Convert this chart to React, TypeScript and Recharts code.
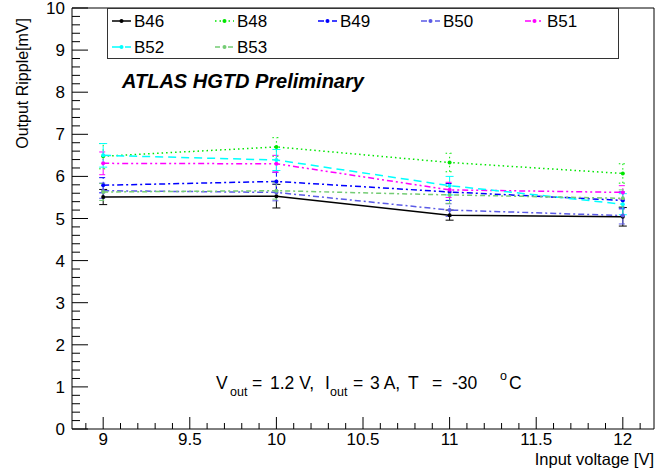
import React from 'react';
import { LineChart, Line, XAxis, YAxis, ErrorBar, ReferenceArea } from 'recharts';

// input voltage [V]
const voltages = [9, 10, 11, 12];

// output ripple [mV] per board
const b46 = [5.51, 5.53, 5.08, 5.04];
const b48 = [6.48, 6.70, 6.33, 6.07];
const b49 = [5.79, 5.88, 5.63, 5.43];
const b50 = [5.66, 5.62, 5.20, 5.07];
const b51 = [6.31, 6.30, 5.68, 5.62];
const b52 = [6.50, 6.39, 5.78, 5.34];
const b53 = [5.63, 5.66, 5.56, 5.48];

// errors [mV]
const e46 = [0.18, 0.28, 0.12, 0.22];
const e48 = [0.30, 0.22, 0.22, 0.23];
const e49 = [0.18, 0.22, 0.20, 0.20];
const e50 = [0.18, 0.20, 0.15, 0.20];
const e51 = [0.27, 0.20, 0.18, 0.16];
const e52 = [0.28, 0.25, 0.22, 0.25];
const e53 = [0.20, 0.20, 0.20, 0.20];

// axis ticks
const xMajorTicks = [9, 9.5, 10, 10.5, 11, 11.5, 12];
const yMajorTicks = [0, 1, 2, 3, 4, 5, 6, 7, 8, 9, 10];
const xTicks = Array.from({ length: 33 }, (_, i) => (89 + i) / 10);
const yTicks = Array.from({ length: 51 }, (_, i) => i / 5);

const FONT = '"Liberation Sans", Arial, Helvetica, sans-serif';

interface Series {
  key: string;
  color: string;
  dash: string;
  values: number[];
  errors: number[];
}

const series: Series[] = [
  { key: 'B46', color: '#000000', dash: '', values: b46, errors: e46 },
  { key: 'B48', color: '#00e600', dash: '1.5 3', values: b48, errors: e48 },
  { key: 'B49', color: '#0000ff', dash: '6 3 2 3', values: b49, errors: e49 },
  { key: 'B50', color: '#5a5ae6', dash: '6 3 2 3', values: b50, errors: e50 },
  { key: 'B51', color: '#ff00ff', dash: '6 3 2 3 2 3', values: b51, errors: e51 },
  { key: 'B52', color: '#00ffff', dash: '8 5', values: b52, errors: e52 },
  { key: 'B53', color: '#74cc74', dash: '5 3 2 3', values: b53, errors: e53 },
];

const data = voltages.map((v, i) => {
  const row: any = { v };
  series.forEach((s) => {
    row[s.key] = s.values[i];
    row['err' + s.key] = s.errors[i];
  });
  return row;
});

const isMajor = (list: number[], value: number) => list.some((m) => Math.abs(m - value) < 1e-6);

const XTick = (props: any) => {
  const { x, y, payload } = props;
  const major = isMajor(xMajorTicks, payload.value);
  return (
    <g>
      <line x1={x} x2={x} y1={y} y2={y - (major ? 12 : 6)} stroke="#000" strokeWidth={1} />
      {major && (
        <text x={x} y={y + 16} textAnchor="middle" fontSize={17} fontFamily={FONT} fill="#000">
          {String(payload.value)}
        </text>
      )}
    </g>
  );
};

const YTick = (props: any) => {
  const { x, y, payload } = props;
  const major = isMajor(yMajorTicks, payload.value);
  return (
    <g>
      <line x1={x} x2={x + (major ? 16 : 8)} y1={y} y2={y} stroke="#000" strokeWidth={1} />
      {major && (
        <text x={x - 7} y={y + 6} textAnchor="end" fontSize={17} fontFamily={FONT} fill="#000">
          {String(payload.value)}
        </text>
      )}
    </g>
  );
};

const legendCols = [112, 215, 318, 421, 525];
const legendRows = [21, 47];

export default function App() {
  return (
    <div style={{ position: 'absolute', left: 0, top: 0, width: 659, height: 469, background: '#fff' }}>
      <LineChart width={659} height={469} data={data} margin={{ top: 8, right: 5, bottom: 0, left: 0 }}>
        <XAxis
          dataKey="v"
          type="number"
          domain={[8.82, 12.18]}
          ticks={xTicks}
          interval={0}
          height={40}
          tickSize={0}
          tickMargin={0}
          axisLine={false}
          tickLine={false}
          tick={<XTick />}
          allowDataOverflow
        />
        <YAxis
          type="number"
          domain={[0, 10]}
          ticks={yTicks}
          interval={0}
          width={72}
          tickSize={0}
          tickMargin={0}
          axisLine={false}
          tickLine={false}
          tick={<YTick />}
          allowDataOverflow
        />
        <ReferenceArea x1={8.82} x2={12.18} y1={0} y2={10} fill="none" fillOpacity={0} stroke="#000" strokeWidth={1} />
        {series.map((s) => (
          <Line
            key={s.key}
            dataKey={s.key}
            type="linear"
            stroke={s.color}
            strokeWidth={1.5}
            strokeDasharray={s.dash || undefined}
            dot={{ r: 2, fill: s.color, stroke: 'none' }}
            isAnimationActive={false}
          >
            <ErrorBar
              dataKey={'err' + s.key}
              direction="y"
              width={4}
              stroke={s.color}
              strokeWidth={1}
              strokeDasharray={s.dash || undefined}
              isAnimationActive={false}
            />
          </Line>
        ))}
      </LineChart>

      {/* legend, labels and annotations */}
      <svg
        width={659}
        height={469}
        style={{ position: 'absolute', left: 0, top: 0, pointerEvents: 'none' }}
        fontFamily={FONT}
      >
        <rect x={107.5} y={8.5} width={511} height={50} fill="#fff" stroke="#333" strokeWidth={1} />
        {series.map((s, i) => {
          const cx = legendCols[i % 5];
          const cy = legendRows[Math.floor(i / 5)];
          return (
            <g key={s.key}>
              <line x1={cx} x2={cx + 19} y1={cy} y2={cy} stroke={s.color} strokeWidth={1.5} strokeDasharray={s.dash || undefined} />
              <circle cx={cx + 9.5} cy={cy} r={2} fill={s.color} />
              <text x={cx + 22} y={cy + 6} fontSize={17} fill="#000">
                {s.key}
              </text>
            </g>
          );
        })}

        <text x={122} y={88} fontSize={20} fontWeight="bold" fontStyle="italic" fill="#000">
          ATLAS HGTD Preliminary
        </text>

        <text y={389} fontSize={17.5} fill="#000">
          <tspan x={216}>V</tspan>
          <tspan x={230} dy={7} fontSize={12.5}>out</tspan>
          <tspan x={252} dy={-7}>=</tspan>
          <tspan x={270}>1.2 V,</tspan>
          <tspan x={325}>I</tspan>
          <tspan x={330} dy={7} fontSize={12.5}>out</tspan>
          <tspan x={353} dy={-7}>=</tspan>
          <tspan x={370}>3 A,</tspan>
          <tspan x={408}>T</tspan>
          <tspan x={432}>=</tspan>
          <tspan x={452}>-30</tspan>
          <tspan x={500} dy={-9} fontSize={12.5}>o</tspan>
          <tspan x={509} dy={9}>C</tspan>
        </text>

        <text transform="translate(28,18) rotate(-90)" textAnchor="end" fontSize={16} fill="#000">
          Output Ripple[mV]
        </text>
        <text x={654} y={465} textAnchor="end" fontSize={16.5} fill="#000">
          Input voltage [V]
        </text>
      </svg>
    </div>
  );
}
